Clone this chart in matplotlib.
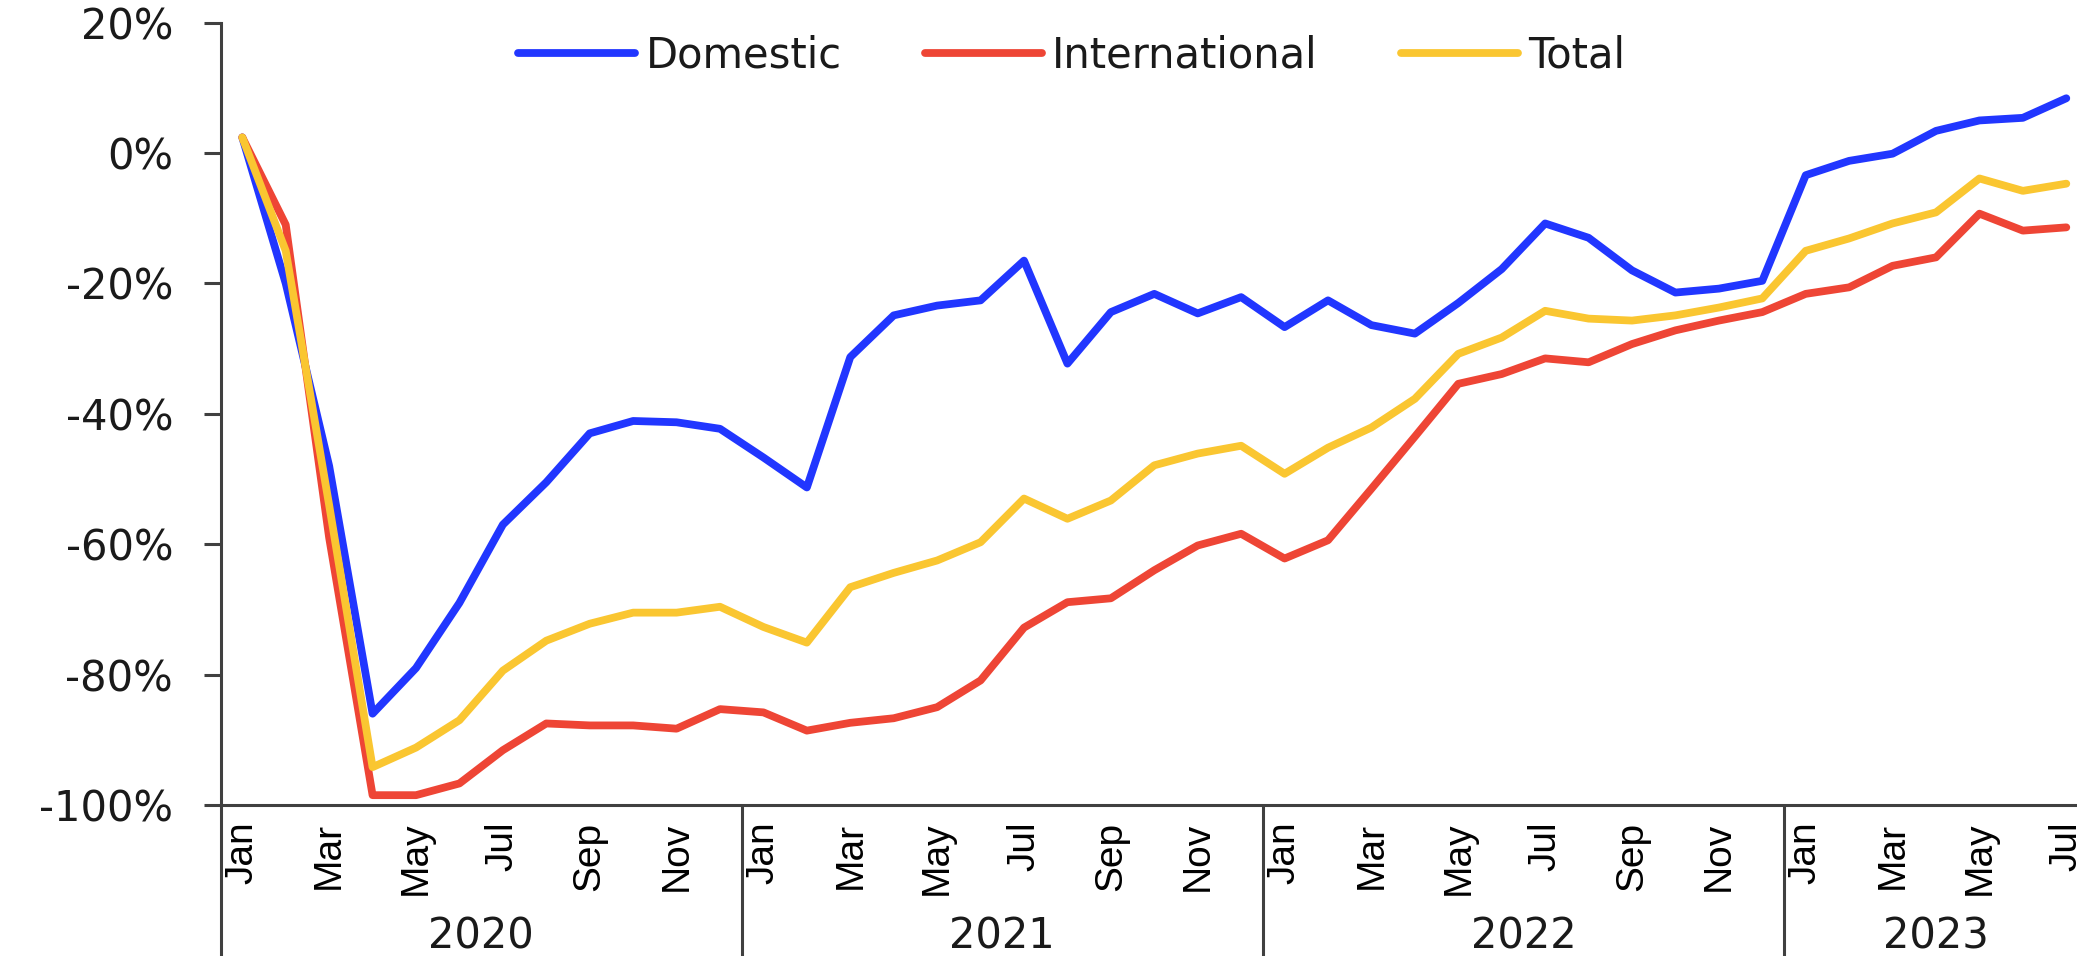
import matplotlib.pyplot as plt
from matplotlib.ticker import FuncFormatter

# monthly change vs 2019, in percent (Jan 2020 .. Jul 2023)
month_names = ["Jan", "Feb", "Mar", "Apr", "May", "Jun",
               "Jul", "Aug", "Sep", "Oct", "Nov", "Dec"]
years = ["2020", "2021", "2022", "2023"]

domestic = [2.4, -20, -48, -86.0, -79, -69, -57, -50.5, -43, -41.1, -41.3, -42.3,
            -46.7, -51.3, -31.3, -24.9, -23.4, -22.6, -16.5, -32.3, -24.4, -21.6, -24.6, -22.1,
            -26.7, -22.6, -26.4, -27.7, -23.0, -17.8, -10.8, -13.0, -18.0, -21.4, -20.8, -19.6,
            -3.4, -1.2, -0.1, 3.4, 5.0, 5.4, 8.4]
international = [2.4, -11, -59, -98.5, -98.5, -96.7, -91.6, -87.5, -87.8, -87.8, -88.3, -85.3,
                 -85.8, -88.6, -87.4, -86.7, -85.0, -80.9, -72.8, -68.9, -68.3, -64.0, -60.2, -58.4,
                 -62.2, -59.4, -51.5, -43.5, -35.4, -33.9, -31.5, -32.1, -29.3, -27.2, -25.7, -24.4,
                 -21.6, -20.6, -17.3, -16.0, -9.3, -11.9, -11.4]
total = [2.4, -15, -54, -94.2, -91.2, -87.0, -79.4, -74.8, -72.2, -70.5, -70.5, -69.6,
         -72.7, -75.1, -66.6, -64.4, -62.5, -59.7, -53.0, -56.1, -53.3, -47.9, -46.1, -44.9,
         -49.2, -45.2, -42.1, -37.7, -30.8, -28.3, -24.2, -25.4, -25.7, -24.9, -23.7, -22.3,
         -15.0, -13.1, -10.8, -9.1, -3.9, -5.8, -4.7]

n = len(domestic)
x = list(range(n))
labels = [month_names[i % 12] for i in x]

axis_col = "#404040"
text_col = "#1a1a1a"

fig = plt.figure(figsize=(20.77, 9.56), dpi=100)
ax = fig.add_axes([0.1062, 0.158, 0.8991, 0.8183])

line_kw = dict(lw=5.6, solid_joinstyle="round", solid_capstyle="round")
ax.plot(x, domestic, color="#2136FF", label="Domestic", **line_kw)
ax.plot(x, international, color="#EE4535", label="International", **line_kw)
ax.plot(x, total, color="#FAC631", label="Total", **line_kw)

ax.set_xlim(-0.5, n - 0.5)
ax.set_ylim(-100, 20)
ax.set_yticks(range(-100, 21, 20))
ax.yaxis.set_major_formatter(FuncFormatter(lambda v, p: f"{v:.0f}%"))
ax.tick_params(axis="y", length=12.2, width=2.2, color=axis_col, pad=22,
               labelsize=30, labelcolor=text_col)

ax.set_xticks(x[::2])
ax.set_xticklabels(labels[::2], rotation=90, fontfamily="Liberation Sans",
                   fontsize=28, color="black")
ax.tick_params(axis="x", length=0, pad=12)

for s in ["top", "right"]:
    ax.spines[s].set_visible(False)
for s in ["left", "bottom"]:
    ax.spines[s].set_color(axis_col)
    ax.spines[s].set_linewidth(2.2)

# year groups under the month labels
trans = ax.get_xaxis_transform()
for b in [-0.5, 11.5, 23.5, 35.5]:
    ax.plot([b, b], [0, -0.25], transform=trans, color=axis_col, lw=2.2,
            clip_on=False, solid_capstyle="butt")
for k, yr in enumerate(years):
    first = 12 * k
    last = min(12 * k + 11, n - 1)
    ax.text((first + last) / 2, -0.168, yr, transform=trans, ha="center",
            va="center", fontsize=30, color=text_col)

fig.legend(loc="center", bbox_to_anchor=(0.516, 0.942), ncol=3, frameon=False,
           fontsize=30, handlelength=2.8, handletextpad=0.25, columnspacing=2.0,
           borderpad=0, labelcolor=text_col)

fig.savefig("out.png", dpi=100)
